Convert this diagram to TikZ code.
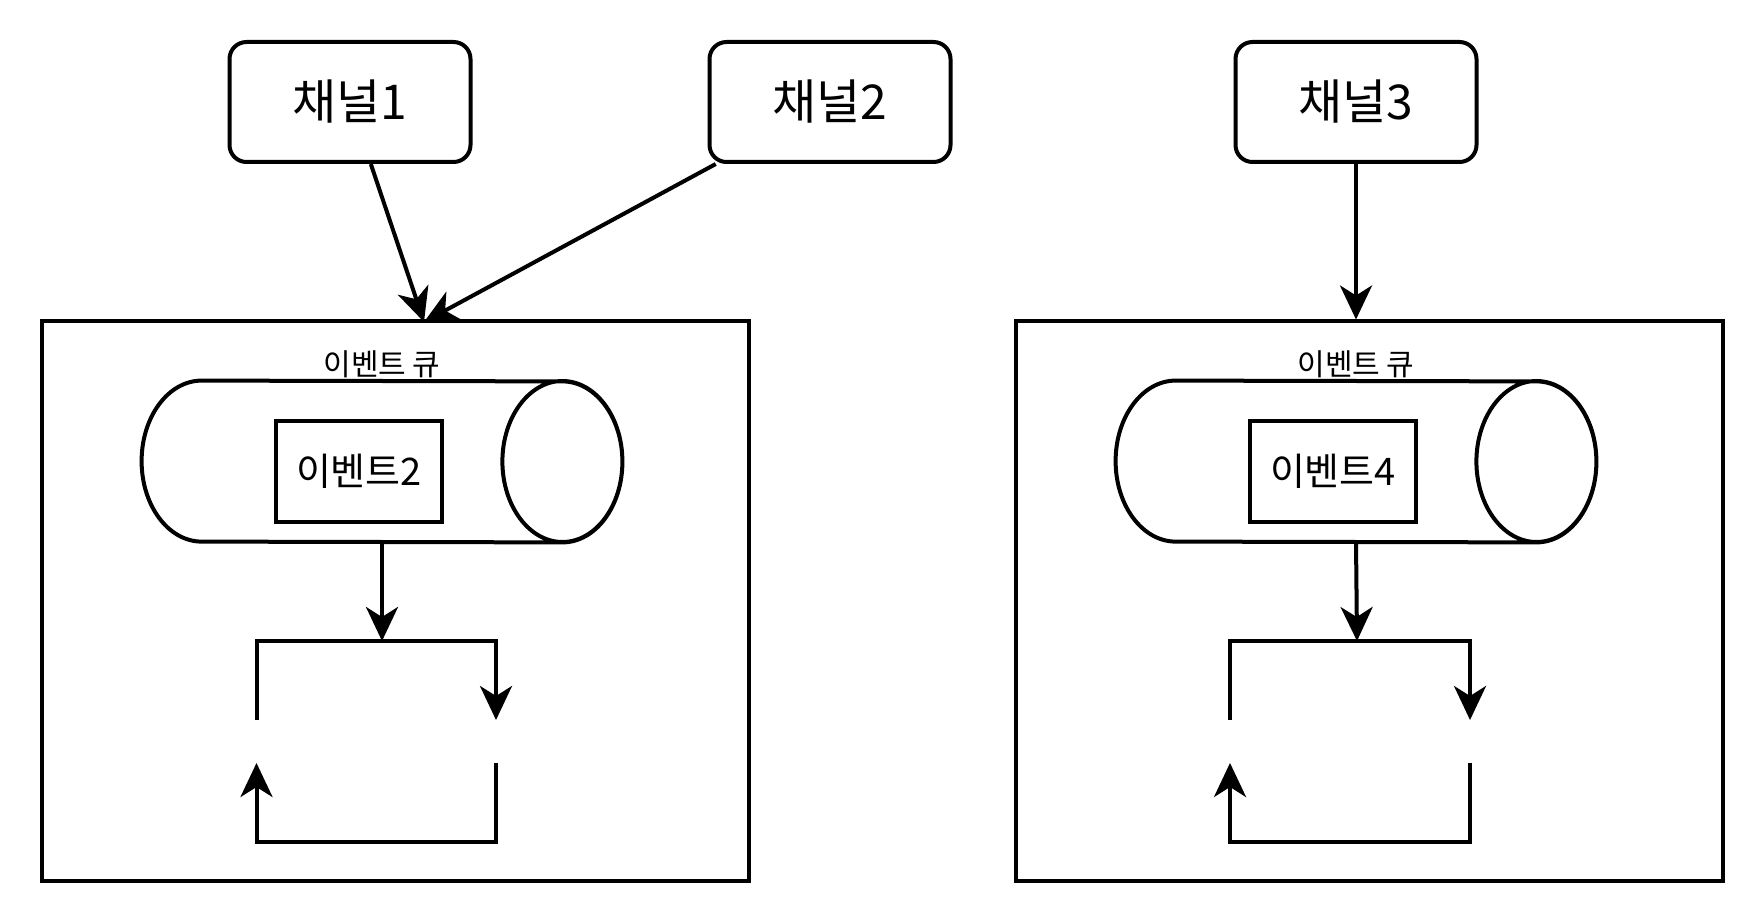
\documentclass[tikz,border=0pt]{standalone}
\usepackage{fontspec}
\setmainfont{Noto Sans CJK KR}
\usetikzlibrary{arrows.meta,positioning,calc}
\tikzset{
  flow/.style={-{Stealth[length=17pt,width=16pt,inset=5pt]}, line width=2pt},
  chanbox/.style={draw, line width=2pt, rounded corners=8.5pt,
                  minimum width=120.5pt, minimum height=60pt,
                  font=\fontsize{24}{28}\selectfont},
  hostbox/.style={draw, line width=2pt, minimum width=353.5pt, minimum height=279.5pt},
  queuetube/.style={minimum width=240pt, minimum height=80.5pt, inner sep=0pt},
  eventbox/.style={draw, line width=2pt, minimum width=83pt, minimum height=50.5pt,
                   font=\fontsize{19}{22}\selectfont},
  qlabel/.style={font=\fontsize{15}{17}\selectfont, inner sep=1pt}
}
% outline of a lying cylinder round a queuetube node
\newcommand{\drawtube}[1]{%
  \draw[line width=2pt] ([xshift=30pt]#1.north west)
    arc[start angle=90, end angle=270, x radius=30pt, y radius=40.25pt]
    -- ([xshift=-30pt]#1.south east)
    arc[start angle=-90, end angle=90, x radius=30pt, y radius=40.25pt]
    -- cycle
    ([xshift=-30pt]#1.east) ellipse[x radius=30pt, y radius=40.25pt];}

\begin{document}
\begin{tikzpicture}[x=0.5pt, y=-0.5pt]
  \useasboundingbox (0,0) rectangle (1764,924);

  % channels
  \node[chanbox] (ch1) at (350,102) {채널1};
  \node[chanbox] (ch2) at (830,102) {채널2};
  \node[chanbox] (ch3) at (1356,102) {채널3};

  % left host
  \node[hostbox] (host1) at (395,601) {};
  \node[queuetube] (cyl1) at (382,461.5) {};
  \drawtube{cyl1}
  \node[qlabel, above=0pt of cyl1] (qlab1) {이벤트 큐};
  \node[eventbox] (ev2) at (359,471.5) {이벤트2};

  % right host
  \node[hostbox] (host2) at (1369,601) {};
  \node[queuetube] (cyl2) at (1356,461.5) {};
  \drawtube{cyl2}
  \node[qlabel, above=0pt of cyl2] (qlab2) {이벤트 큐};
  \node[eventbox] (ev4) at (1333,471.5) {이벤트4};

  \coordinate (drop1) at (424,322);
  \coordinate (top1) at (382,641);
  \coordinate (top2) at (1357,641);

  % event loops
  \coordinate (lt1) at (256.5,641);  \coordinate (rt1) at (496,641);
  \coordinate (lm1) at (256.5,720);  \coordinate (rm1) at (496,720);
  \coordinate (lb1) at (256.5,763);  \coordinate (rb1) at (496,763);
  \coordinate (ll1) at (256.5,841.5); \coordinate (rl1) at (496,841.5);
  \coordinate (lt2) at (1230,641);  \coordinate (rt2) at (1470,641);
  \coordinate (lm2) at (1230,720);  \coordinate (rm2) at (1470,720);
  \coordinate (lb2) at (1230,763);  \coordinate (rb2) at (1470,763);
  \coordinate (ll2) at (1230,841.5); \coordinate (rl2) at (1470,841.5);

  \draw[flow] (ch1) -- (drop1);
  \draw[flow] (ch2) -- (drop1);
  \draw[flow] (ch3) -- (ch3 |- host2.north);

  \draw[flow] (cyl1.south) -- (top1);
  \draw[flow] (lm1) -- (lt1) -- (rt1) -- (rm1);
  \draw[flow] (rb1) -- (rl1) -- (ll1) -- (lb1);

  \draw[flow] (cyl2.south) -- (top2);
  \draw[flow] (lm2) -- (lt2) -- (rt2) -- (rm2);
  \draw[flow] (rb2) -- (rl2) -- (ll2) -- (lb2);
\end{tikzpicture}
\end{document}
